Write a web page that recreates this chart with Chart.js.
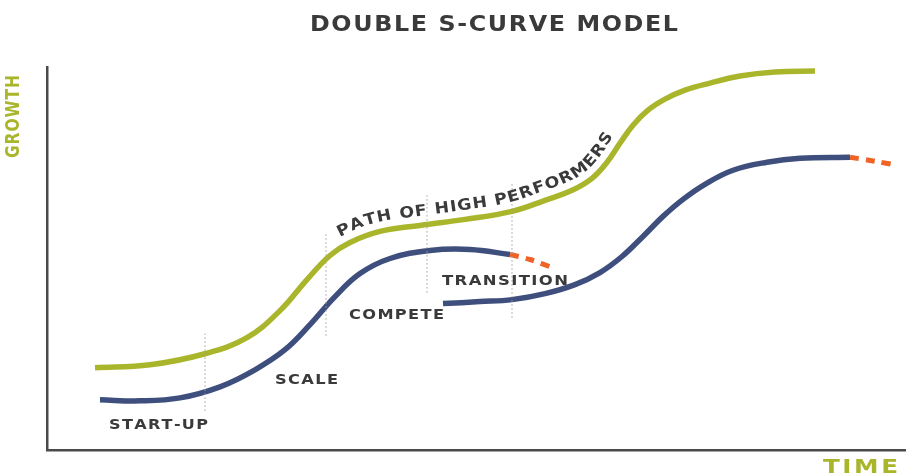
<!DOCTYPE html>
<html>
<head>
<meta charset="utf-8">
<script src="https://cdn.jsdelivr.net/npm/chart.js@4"></script>
<style>
  html, body { margin: 0; padding: 0; background: #ffffff; }
  #wrap { width: 906px; height: 476px; }
</style>
</head>
<body>
<div id="wrap"><canvas id="c" width="906" height="476"></canvas></div>
<script>
// ---- Data (time units on x, growth units on y) ----
const highPerformersX = [48, 103, 158, 200, 233, 260, 283, 303, 333, 373, 418, 465, 498, 525, 545, 560, 573, 586, 601, 618, 638, 663, 693, 728, 768];
const highPerformersY = [82, 85, 96, 112, 139, 170, 194, 207, 218, 224, 230, 238, 249, 259, 271, 287, 306, 324, 339, 350, 359, 366, 373, 377, 378];

const firstCurveX = [53, 93, 133, 173, 208, 238, 263, 288, 313, 343, 383, 423, 463];
const firstCurveY = [50, 49, 52, 63, 80, 100, 125, 153, 176, 191, 199, 200, 195];

const firstDeclineX = [463, 483, 505];
const firstDeclineY = [195, 190, 182];

const secondCurveX = [396, 433, 465, 498, 528, 553, 575, 596, 616, 636, 658, 686, 720, 753, 803];
const secondCurveY = [146, 148, 150, 156, 165, 177, 193, 213, 233, 250, 265, 279, 287, 291, 292];

const secondDeclineX = [803, 828, 850];
const secondDeclineY = [292, 288, 284];

const phaseDividerX = [158, 279, 380, 465];
const phaseDividerLow = [39, 114, 157, 132];
const phaseDividerHigh = [116, 216, 254, 267];

const phaseLabels = ["START-UP", "SCALE", "COMPETE", "TRANSITION"];
const phaseLabelX = [111.5, 259.5, 349.5, 458];
const phaseLabelY = [24.5, 70, 134.5, 168];

const titleText = "DOUBLE S-CURVE MODEL";
const yAxisLabel = "GROWTH";
const xAxisLabel = "TIME";
const pathLabel = "PATH OF HIGH PERFORMERS";

// ---- Build datasets ----
const zip = (xs, ys) => xs.map((x, i) => ({ x: x, y: ys[i] }));
const GREEN = '#a9b62c';
const BLUE = '#3e4f7e';
const ORANGE = '#ef6326';
const DARK = '#3a3a3a';

const datasets = [];
datasets.push({ data: zip(highPerformersX, highPerformersY), borderColor: GREEN, borderWidth: 5.5, tension: 0.4, pointRadius: 0, fill: false });
datasets.push({ data: zip(firstCurveX, firstCurveY), borderColor: BLUE, borderWidth: 5.5, tension: 0.4, pointRadius: 0, fill: false });
datasets.push({ data: zip(secondCurveX, secondCurveY), borderColor: BLUE, borderWidth: 5.5, tension: 0.4, pointRadius: 0, fill: false });
datasets.push({ data: zip(firstDeclineX, firstDeclineY), borderColor: ORANGE, borderWidth: 5, borderDash: [9, 7], tension: 0.3, pointRadius: 0, fill: false });
datasets.push({ data: zip(secondDeclineX, secondDeclineY), borderColor: ORANGE, borderWidth: 5, borderDash: [9, 7], tension: 0.3, pointRadius: 0, fill: false });
phaseDividerX.forEach((x, i) => {
  datasets.unshift({ data: [{ x: x, y: phaseDividerLow[i] }, { x: x, y: phaseDividerHigh[i] }], borderColor: '#a0a0a0', borderWidth: 1, borderDash: [1.5, 2.5], pointRadius: 0, fill: false, tension: 0 });
});
const GREEN_INDEX = phaseDividerX.length;

const WIDE = '"DejaVu Sans", "Open Sans", sans-serif';

// text fitted to a width by horizontal stretching, with fixed letter spacing
function drawFitted(ctx, text, cx, cy, targetW, font, color, spacing) {
  ctx.save();
  ctx.font = font;
  ctx.fillStyle = color;
  ctx.textBaseline = 'middle';
  ctx.textAlign = 'left';
  const chars = [...text];
  const ws = chars.map(c => ctx.measureText(c).width);
  const natural = ws.reduce((a, b) => a + b, 0) + spacing * (chars.length - 1);
  const k = targetW / natural;
  ctx.translate(cx - targetW / 2, cy);
  ctx.scale(k, 1);
  let x = 0;
  chars.forEach((c, i) => { ctx.fillText(c, x, 0); x += ws[i] + spacing; });
  ctx.restore();
}

const textPlugin = {
  id: 'textPlugin',
  afterDatasetsDraw(chart) {
    const ctx = chart.ctx;
    const xs = chart.scales.x, ys = chart.scales.y;
    const labelFont = 'bold 14.5px ' + WIDE;
    const widths = [99, 63, 95, 126];
    phaseLabels.forEach((t, i) => {
      drawFitted(ctx, t, xs.getPixelForValue(phaseLabelX[i]), ys.getPixelForValue(phaseLabelY[i]), widths[i], labelFont, DARK, 1.2);
    });
    drawFitted(ctx, titleText, 494, 25, 368, 'bold 22px ' + WIDE, DARK, 1.5);
    drawFitted(ctx, xAxisLabel, 860.5, 468, 75, 'bold 19px ' + WIDE, GREEN, 2);
    ctx.save();
    ctx.translate(14, 116.5);
    ctx.rotate(-Math.PI / 2);
    drawFitted(ctx, yAxisLabel, 0, 0, 83, 'bold 19px "Liberation Sans Narrow", "DejaVu Sans Condensed", sans-serif', GREEN, 1);
    ctx.restore();

    // curved text along the green curve
    const pts = chart.getDatasetMeta(GREEN_INDEX).data;
    const poly = [];
    for (let i = 0; i < pts.length - 1; i++) {
      const p0 = pts[i], p1 = pts[i + 1];
      const c1x = p0.cp2x ?? p0.x, c1y = p0.cp2y ?? p0.y;
      const c2x = p1.cp1x ?? p1.x, c2y = p1.cp1y ?? p1.y;
      for (let k = 0; k < 40; k++) {
        const t = k / 40, u = 1 - t;
        poly.push({
          x: u*u*u*p0.x + 3*u*u*t*c1x + 3*u*t*t*c2x + t*t*t*p1.x,
          y: u*u*u*p0.y + 3*u*u*t*c1y + 3*u*t*t*c2y + t*t*t*p1.y
        });
      }
    }
    poly.push({ x: pts[pts.length - 1].x, y: pts[pts.length - 1].y });
    const off = 9.5;
    const opoly = poly.map((p, i) => {
      const a = poly[Math.max(0, i - 3)], b = poly[Math.min(poly.length - 1, i + 3)];
      const dx = b.x - a.x, dy = b.y - a.y, L = Math.hypot(dx, dy) || 1;
      return { x: p.x + (dy / L) * off, y: p.y - (dx / L) * off };
    });
    const cum = [0];
    for (let i = 1; i < opoly.length; i++) cum.push(cum[i - 1] + Math.hypot(opoly[i].x - opoly[i - 1].x, opoly[i].y - opoly[i - 1].y));
    const findS = (cx) => { for (let i = 0; i < poly.length; i++) if (poly[i].x >= cx) return cum[i]; return cum[cum.length - 1]; };
    const sStart = findS(344), sEnd = findS(621);
    const at = (s) => {
      let i = 1;
      while (i < cum.length - 1 && cum[i] < s) i++;
      const a0 = opoly[Math.max(0, i - 4)], b0 = opoly[Math.min(opoly.length - 1, i + 3)];
      const t = (s - cum[i - 1]) / ((cum[i] - cum[i - 1]) || 1);
      const a = opoly[i - 1], b = opoly[i];
      return { x: a.x + (b.x - a.x) * t, y: a.y + (b.y - a.y) * t, ang: Math.atan2(b0.y - a0.y, b0.x - a0.x) };
    };
    ctx.save();
    ctx.font = 'bold 15.5px ' + WIDE;
    ctx.fillStyle = DARK;
    ctx.textBaseline = 'alphabetic';
    ctx.textAlign = 'center';
    const stretch = 1.12;
    const chars = [...pathLabel];
    const cw = chars.map(ch => ctx.measureText(ch).width * stretch);
    const total = cw.reduce((a, b) => a + b, 0);
    const sp = ((sEnd - sStart) - total) / (chars.length - 1);
    let s = sStart;
    chars.forEach((ch, i) => {
      const p = at(s + cw[i] / 2);
      ctx.save();
      ctx.translate(p.x, p.y);
      ctx.rotate(p.ang);
      ctx.scale(stretch, 1);
      ctx.fillText(ch, 0, 0);
      ctx.restore();
      s += cw[i] + sp;
    });
    ctx.restore();
  }
};

new Chart(document.getElementById('c'), {
  type: 'line',
  data: { datasets: datasets },
  options: {
    responsive: false,
    animation: false,
    devicePixelRatio: 1,
    layout: { padding: { left: 39, right: 0, top: 67, bottom: 18 } },
    plugins: { legend: { display: false }, tooltip: { enabled: false }, title: { display: false } },
    scales: {
      x: { type: 'linear', min: 0, max: 859, grid: { display: false }, ticks: { display: false }, border: { display: true, color: '#4a4a4a', width: 2.5 } },
      y: { type: 'linear', min: 0, max: 382, grid: { display: false }, ticks: { display: false }, border: { display: true, color: '#4a4a4a', width: 2.5 } }
    }
  },
  plugins: [textPlugin]
});
</script>
</body>
</html>
